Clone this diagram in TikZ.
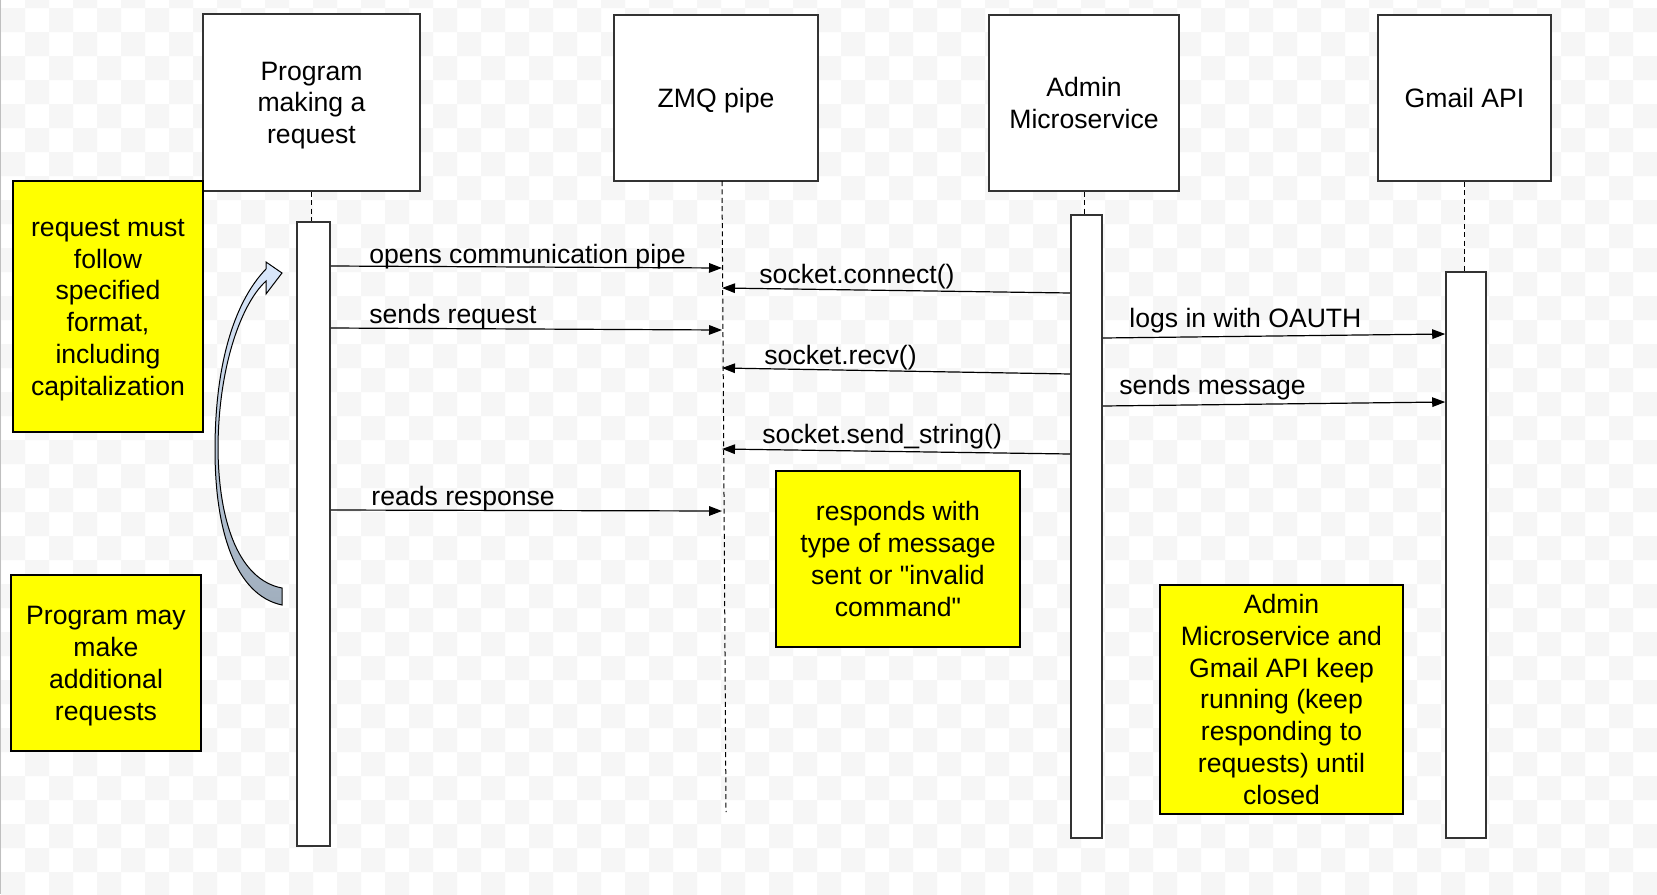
\documentclass[tikz,border=0pt]{standalone}
\usepackage{fontspec}
\setmainfont{Liberation Sans}
\usetikzlibrary{arrows.meta,fit}
\definecolor{noteyellow}{RGB}{255,255,0}
\definecolor{checkgray}{RGB}{246,246,246}
\definecolor{edgegray}{RGB}{51,51,51}
\definecolor{looptop}{RGB}{218,232,252}
\definecolor{loopbottom}{RGB}{160,174,189}
\tikzset{
  head/.style={draw=edgegray, line width=0.8pt, fill=white, inner sep=0pt, align=center,
    text depth=3.3pt},
  bar/.style={draw=edgegray, line width=0.8pt, fill=white, inner sep=0pt},
  note/.style={draw=black, line width=0.7pt, fill=noteyellow, inner sep=0pt, align=center,
    text depth=3.3pt},
  life/.style={dash pattern=on 2.5pt off 1.7pt, line width=0.5pt},
  msg/.style={-{Triangle[length=6.5pt,width=4.8pt]}, line width=0.6pt},
  lbl/.style={anchor=base west, inner sep=0pt}
}
\begin{document}
\begin{tikzpicture}[x=0.5pt, y=-0.5pt, font=\fontsize{13.3pt}{15.9pt}\selectfont]
\useasboundingbox (0,0) rectangle (1657,894);
%background
\begin{scope}
\clip (0,0) rectangle (1657,894);
\fill[white] (0,0) rectangle (1657,894);
\foreach \i in {-2,0,...,68}
\foreach \j in {-2,0,...,36}
\fill[checkgray] (1+24*\i,8+24*\j) rectangle ++(24,24)
                 (25+24*\i,32+24*\j) rectangle ++(24,24);
\end{scope}
\draw[black!25] (0.5,0) -- (0.5,894);
%heads
\node[head, minimum width=108.5pt, minimum height=88.5pt, text height=44.4pt] (prog box) at (311.5,102.5) {Program\\making a\\request};
\node[head, minimum width=102pt, minimum height=83pt, text height=12.6pt] (zmq box) at (716,98) {ZMQ pipe};
\node[head, minimum width=95pt, minimum height=88pt, text height=28.5pt] (admin box) at (1084,103) {Admin\\Microservice};
\node[head, minimum width=86.5pt, minimum height=83pt, text height=12.6pt] (gmail box) at (1464.5,98) {Gmail API};
%bars
\node[bar, fit={(297,222) (330,846)}] (prog bar) {};
\node[bar, fit={(1071,215) (1102,838)}] (admin bar) {};
\node[bar, fit={(1446,272) (1486,838)}] (gmail bar) {};
%lifelines
\coordinate (zmq top) at (722,181);
\coordinate (zmq end) at (726,812);
\draw[life] (prog box.south) -- (prog box.south |- prog bar.north);
\draw[life] (zmq top) -- (zmq end);
\draw[life] (admin box.south) -- (admin box.south |- admin bar.north);
\draw[life] (gmail box.south) -- (gmail box.south |- gmail bar.north);
%notes
\node[note, minimum width=95pt, minimum height=125.5pt, text height=92.1pt] (format note) at (108,306.5) {request must\\follow\\specified\\format,\\including\\capitalization};
\node[note, minimum width=95pt, minimum height=88pt, text height=60.3pt] (repeat note) at (106,663) {Program may\\make\\additional\\requests};
\node[note, minimum width=122pt, minimum height=88pt, text height=60.3pt] (reply note) at (898,559) {responds with\\type of message\\sent or \textquotedbl invalid\\command\textquotedbl};
\node[note, minimum width=121.5pt, minimum height=114.5pt, text height=108pt] (running note) at (1281.5,699.5) {Admin\\Microservice and\\Gmail API keep\\running (keep\\responding to\\requests) until\\closed};
%loop arrow
\draw[line width=0.5pt, top color=looptop, bottom color=loopbottom]
  (282,605) .. controls (235,595) and (215,530) .. (215,450)
  .. controls (215,360) and (236,300) .. (266,269)
  -- (266,262) -- (282,273) -- (266,294) -- (266,281)
  .. controls (240,305) and (218,370) .. (218,450)
  .. controls (219,525) and (240,580) .. (282,588) -- cycle;
%program to pipe
\foreach \ya/\yb/\tx/\ty/\txt [count=\n] in
  {266/268/369/263/opens communication pipe,
   328/330/369/323/sends request,
   510/511/371/505/reads response}{
\draw[msg] (prog bar.east |- 0,\ya) -- (zmq top |- 0,\yb);
\node[lbl] (call \n) at (\tx,\ty) {\txt};
}
%admin to pipe
\foreach \ya/\yb/\tx/\ty/\txt [count=\n] in
  {293/288/759/283/socket.connect(),
   374/368/764/364/socket.recv(),
   454/449/762/443/socket.send\_string()}{
\draw[msg] (admin bar.west |- 0,\ya) -- (zmq top |- 0,\yb);
\node[lbl] (socket \n) at (\tx,\ty) {\txt};
}
%admin to gmail
\foreach \ya/\yb/\tx/\ty/\txt [count=\n] in
  {338/334/1129/327/logs in with OAUTH,
   406/402/1119/394/sends message}{
\draw[msg] (admin bar.east |- 0,\ya) -- (gmail bar.west |- 0,\yb);
\node[lbl] (mail \n) at (\tx,\ty) {\txt};
}
\end{tikzpicture}
\end{document}
